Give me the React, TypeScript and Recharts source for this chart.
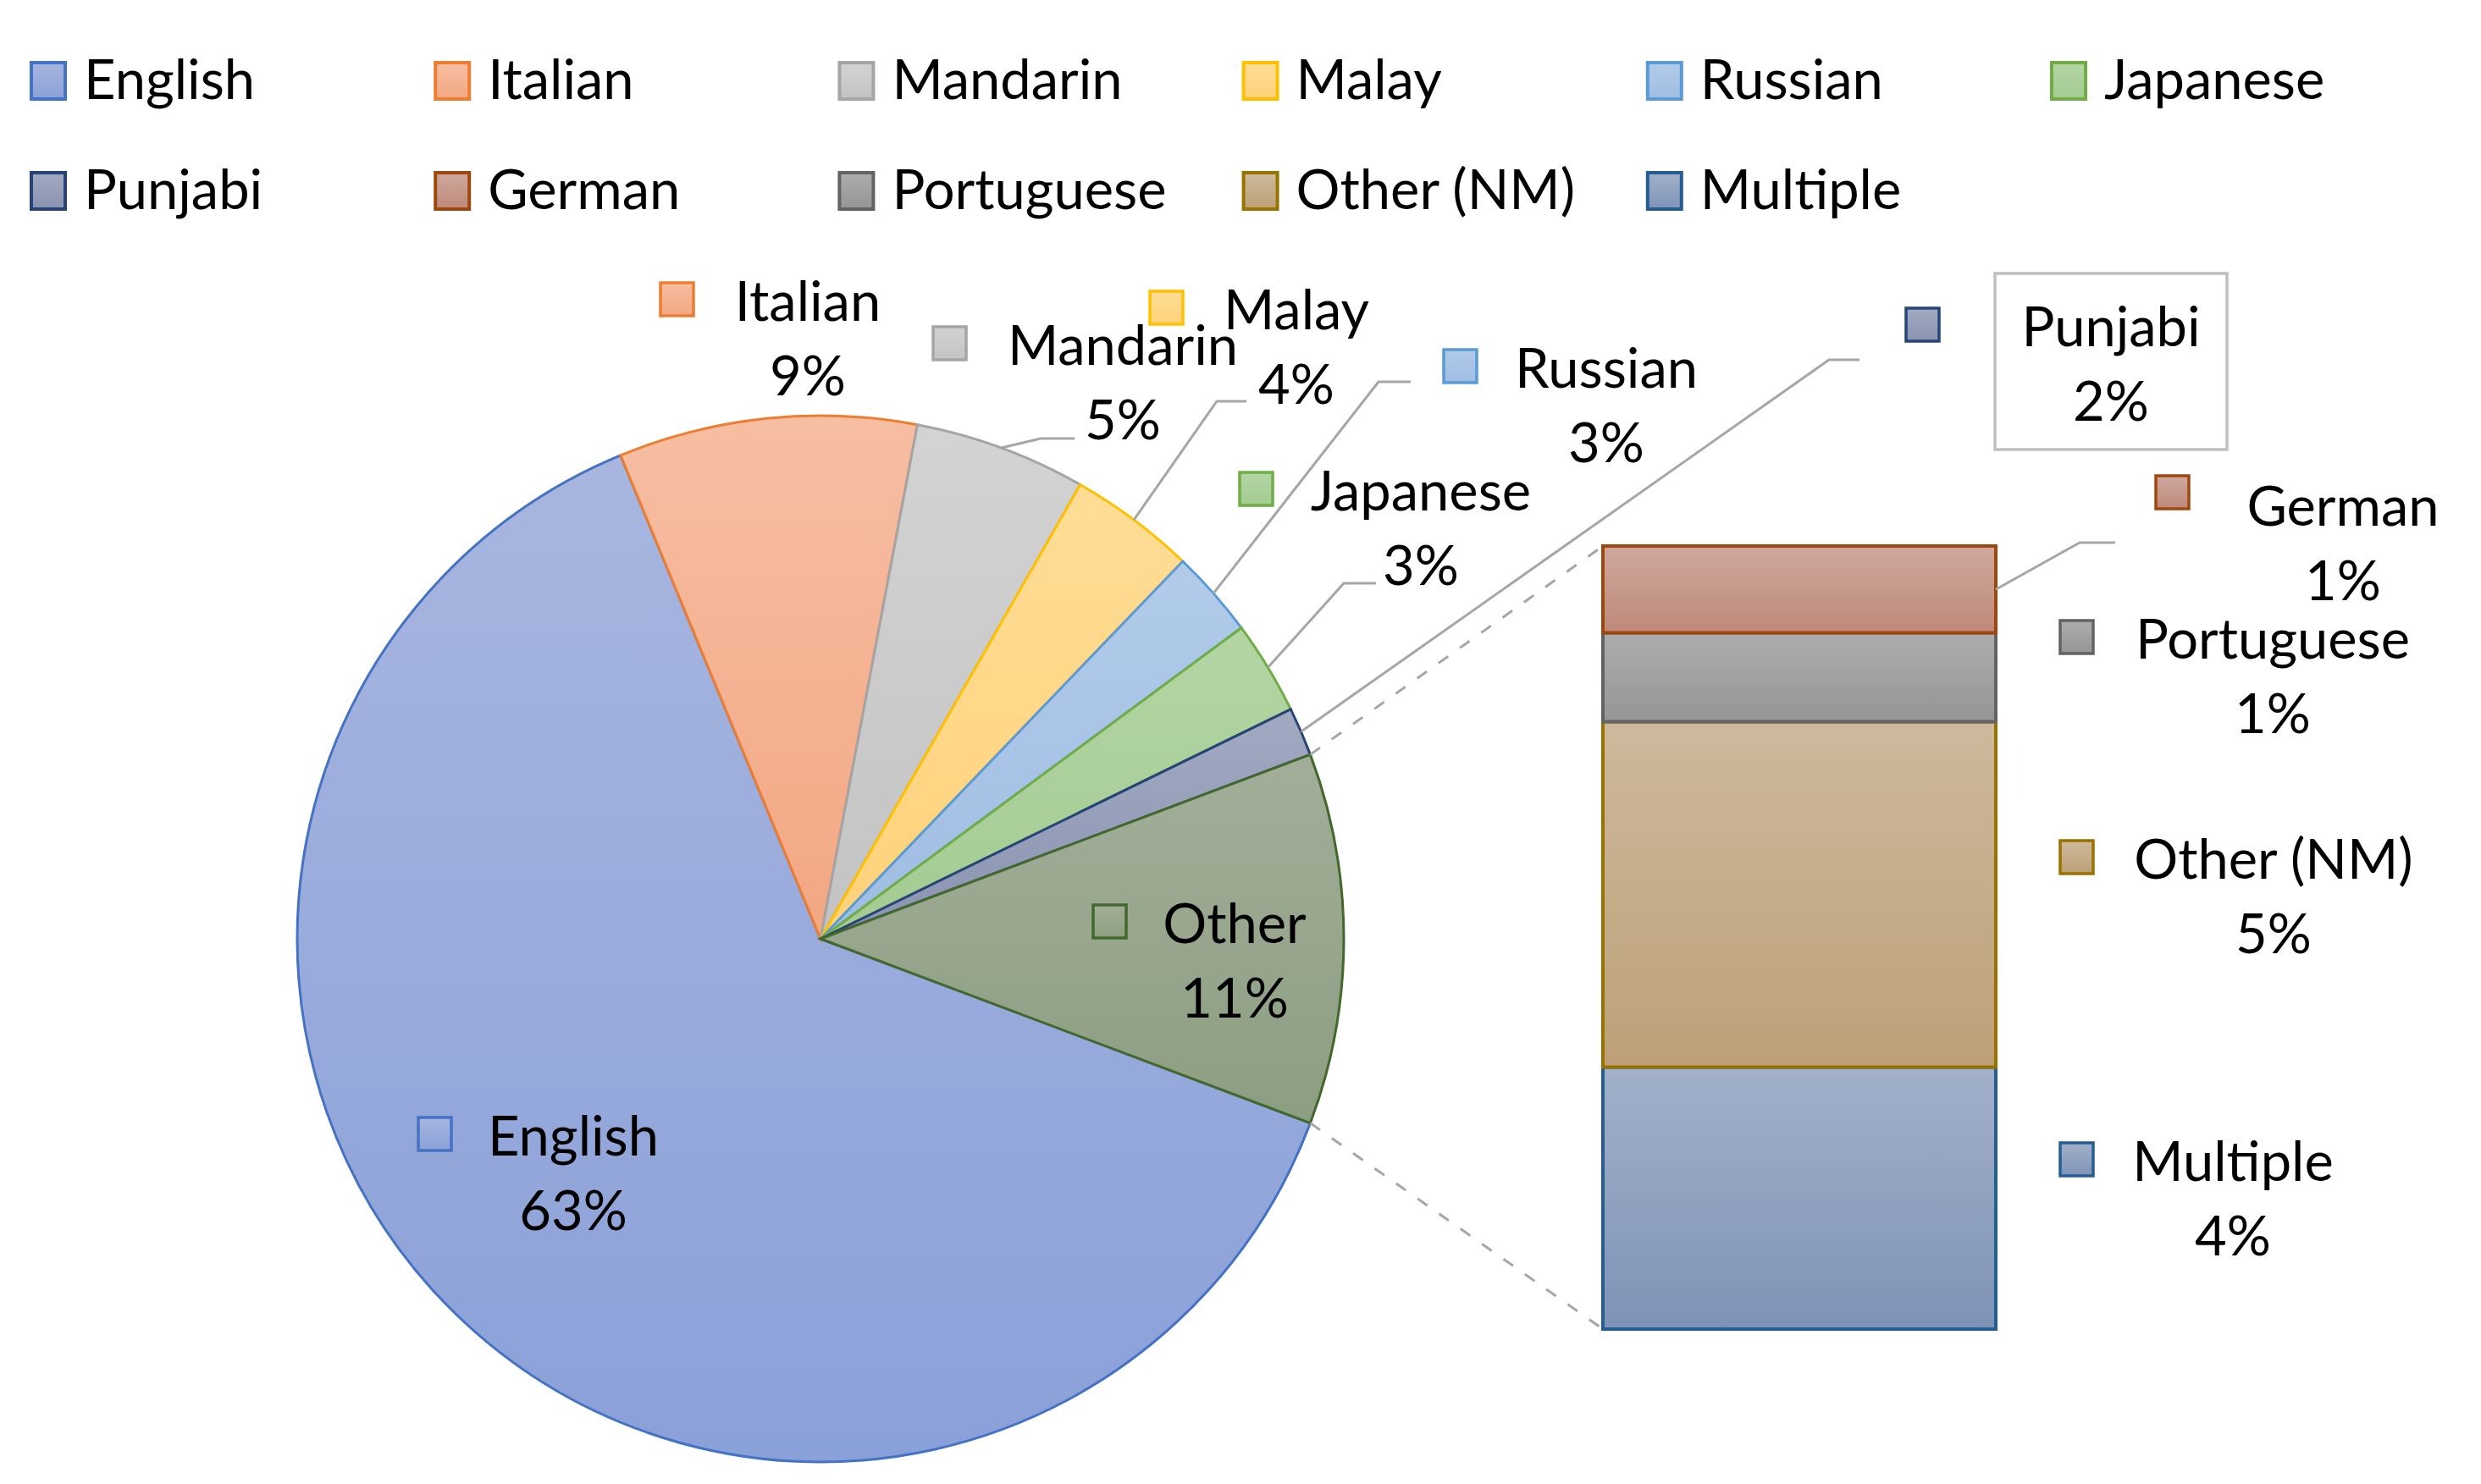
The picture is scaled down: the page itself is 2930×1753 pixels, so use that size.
import React from 'react';
import { PieChart, Pie, Cell, BarChart, Bar, XAxis, YAxis } from 'recharts';

// =============================================================================
// Data
// =============================================================================

const pieNames = ['English', 'Italian', 'Mandarin', 'Malay', 'Russian', 'Japanese', 'Punjabi'];
const pieValues = [63.0, 9.2, 5.3, 3.9, 2.7, 2.9, 1.5];
const otherName = 'Other';

// second plot (the bar), which together make up "Other"
const barNames = ['German', 'Portuguese', 'Other (NM)', 'Multiple'];
const barValues = [1.27, 1.3, 5.05, 3.83];

const legendNames = [...pieNames, ...barNames];

// =============================================================================
// Colours
// =============================================================================

const BORDER: Record<string, string> = {
  English: '#4472C4',
  Italian: '#ED7D31',
  Mandarin: '#A5A5A5',
  Malay: '#FFC000',
  Russian: '#5B9BD5',
  Japanese: '#70AD47',
  Punjabi: '#264478',
  Other: '#43682B',
  German: '#9E480E',
  Portuguese: '#636363',
  'Other (NM)': '#997300',
  Multiple: '#255E91',
};

const GRADIENT: Record<string, [string, string]> = {
  English: ['#A8B6DF', '#8AA0D8'],
  Italian: ['#F6BEA2', '#F3A783'],
  Mandarin: ['#D3D3D3', '#C3C3C3'],
  Malay: ['#FFDD96', '#FFD27A'],
  Russian: ['#B2CBE9', '#9FBDE3'],
  Japanese: ['#B3D5A4', '#A4CB92'],
  Punjabi: ['#A2AAC2', '#8A93B0'],
  Other: ['#A2AE99', '#8C9E81'],
  German: ['#D0A89E', '#BE897A'],
  Portuguese: ['#ADADAD', '#959595'],
  'Other (NM)': ['#CDB99D', '#BDA077'],
  Multiple: ['#A2B0C9', '#7F93B7'],
};

const LEADER = '#A6A6A6';
const FONT = 'Lato, "Liberation Sans", sans-serif';
const FONT_SIZE = 65;
const LINE_GAP = 88;

// =============================================================================
// Layout
// =============================================================================

const W = 2930;
const H = 1753;
const PIE_CX = 969;
const PIE_CY = 1109;
const PIE_R = 618;
const BAR_BOX = { left: 1893, right: 2357, top: 645, bottom: 1570 };

// mx: marker left, tx: name centre, by: first-line baseline
type LabelLayout = {
  mx: number;
  tx: number;
  by: number;
  my?: number;
  leader?: [number, number, number];
  box?: [number, number, number, number];
};

const PIE_LABELS: Record<string, LabelLayout> = {
  English: { mx: 492, tx: 677, by: 1365 },
  Italian: { mx: 778, tx: 954, by: 379 },
  Mandarin: { mx: 1100, tx: 1326, by: 431, leader: [1229, 518, 1269] },
  Malay: { mx: 1356, tx: 1531, by: 389, leader: [1437, 474, 1472] },
  Russian: { mx: 1703, tx: 1897, by: 458, leader: [1628, 451, 1666] },
  Japanese: { mx: 1462, tx: 1678, by: 603, leader: [1587, 689, 1625] },
  Punjabi: { mx: 2249, tx: 2493, by: 409, leader: [2160, 425, 2196], box: [2356, 323, 274, 208] },
  Other: { mx: 1289, tx: 1458, by: 1114 },
};

const BAR_LABELS: Record<string, LabelLayout> = {
  German: { mx: 2544, my: 560, tx: 2767, by: 621, leader: [2456, 641, 2498] },
  Portuguese: { mx: 2431, tx: 2684, by: 778 },
  'Other (NM)': { mx: 2431, tx: 2685, by: 1038 },
  Multiple: { mx: 2431, tx: 2637, by: 1395 },
};

// =============================================================================
// Derived
// =============================================================================

const otherValue = barValues.reduce((a, b) => a + b, 0);
const total = pieValues.reduce((a, b) => a + b, 0) + otherValue;
const pct = (v: number) => `${Math.round((v / total) * 100)}%`;

const pieData = [
  ...pieNames.map((name, i) => ({ name, value: pieValues[i] })),
  { name: otherName, value: otherValue },
];

const barRow: Record<string, number | string> = { name: otherName };
barNames.forEach((n, i) => {
  barRow[`s${i}`] = barValues[i];
});

// "Other" is centred on the 3 o'clock axis, slices run clockwise
const otherHalf = (otherValue / total) * 180;
const START_ANGLE = -otherHalf;
const END_ANGLE = START_ANGLE - 360;

const gid = (name: string) => `grad-${name.replace(/[^A-Za-z]/g, '')}`;

const polar = (angle: number, r = PIE_R) => {
  const rad = (-angle * Math.PI) / 180;
  return [PIE_CX + r * Math.cos(rad), PIE_CY + r * Math.sin(rad)];
};

// =============================================================================
// Label pieces
// =============================================================================

function LabelBlock({ name, value, lay }: { name: string; value: number; lay: LabelLayout }) {
  const markerTop = lay.my ?? lay.by - 47;
  return (
    <g>
      {lay.box && (
        <rect
          x={lay.box[0]}
          y={lay.box[1]}
          width={lay.box[2]}
          height={lay.box[3]}
          fill="#ffffff"
          stroke="#BFBFBF"
          strokeWidth={3.5}
        />
      )}
      <rect
        x={lay.mx + 2}
        y={markerTop + 2}
        width={39}
        height={39}
        fill={`url(#${gid(name)})`}
        stroke={BORDER[name]}
        strokeWidth={3.5}
      />
      <text x={lay.tx} y={lay.by} textAnchor="middle" fontFamily={FONT} fontSize={FONT_SIZE} fill="#000">
        {name}
      </text>
      <text x={lay.tx} y={lay.by + LINE_GAP} textAnchor="middle" fontFamily={FONT} fontSize={FONT_SIZE} fill="#000">
        {pct(value)}
      </text>
    </g>
  );
}

function renderPieLabel(props: any) {
  const { index, cx, cy, midAngle, outerRadius } = props;
  const entry = pieData[index];
  const lay = PIE_LABELS[entry.name];
  if (!lay) return null;
  const rad = (-midAngle * Math.PI) / 180;
  const sx = cx + outerRadius * Math.cos(rad);
  const sy = cy + outerRadius * Math.sin(rad);
  return (
    <g key={`pl-${index}`}>
      {lay.leader && (
        <polyline
          points={`${sx},${sy} ${lay.leader[0]},${lay.leader[1]} ${lay.leader[2]},${lay.leader[1]}`}
          fill="none"
          stroke={LEADER}
          strokeWidth={3}
        />
      )}
      <LabelBlock name={entry.name} value={entry.value} lay={lay} />
    </g>
  );
}

function makeBarLabel(i: number) {
  return (props: any) => {
    const { x, y, width, height } = props;
    const name = barNames[i];
    const lay = BAR_LABELS[name];
    const isTop = i === 0;
    const isBottom = i === barNames.length - 1;
    const [tx, ty] = polar(otherHalf);
    const [bx, by] = polar(-otherHalf);
    return (
      <g key={`bl-${i}`}>
        {isTop && (
          <line x1={tx} y1={ty} x2={x} y2={y} stroke={LEADER} strokeWidth={3} strokeDasharray="14 17" />
        )}
        {isBottom && (
          <line x1={bx} y1={by} x2={x} y2={y + height} stroke={LEADER} strokeWidth={3} strokeDasharray="14 17" />
        )}
        {lay.leader && (
          <polyline
            points={`${x + width},${y + height / 2} ${lay.leader[0]},${lay.leader[1]} ${lay.leader[2]},${lay.leader[1]}`}
            fill="none"
            stroke={LEADER}
            strokeWidth={3}
          />
        )}
        <LabelBlock name={name} value={barValues[i]} lay={lay} />
      </g>
    );
  };
}

// =============================================================================
// Legend
// =============================================================================

function LegendAndDefs() {
  return (
    <svg width={W} height={280} style={{ position: 'absolute', left: 0, top: 0 }}>
      <defs>
        {Object.keys(GRADIENT).map((name) => (
          <linearGradient key={name} id={gid(name)} x1="0" y1="0" x2="0" y2="1">
            <stop offset="0%" stopColor={GRADIENT[name][0]} />
            <stop offset="100%" stopColor={GRADIENT[name][1]} />
          </linearGradient>
        ))}
      </defs>
      {legendNames.map((name, i) => {
        const col = i % 6;
        const row = Math.floor(i / 6);
        const mx = 35 + col * 477.2;
        const base = 117 + row * 130;
        return (
          <g key={name}>
            <rect
              x={mx + 2}
              y={base - 45 + 2}
              width={40}
              height={43}
              fill={`url(#${gid(name)})`}
              stroke={BORDER[name]}
              strokeWidth={4}
            />
            <text x={mx + 64} y={base} fontFamily={FONT} fontSize={FONT_SIZE} fill="#000">
              {name}
            </text>
          </g>
        );
      })}
    </svg>
  );
}

// =============================================================================
// App
// =============================================================================

export default function App() {
  return (
    <div style={{ position: 'absolute', left: 0, top: 0, width: W, height: H, background: '#ffffff' }}>
      <div style={{ position: 'absolute', left: 0, top: 0 }}>
        <PieChart width={W} height={H} margin={{ top: 0, right: 0, bottom: 0, left: 0 }}>
          <Pie
            data={pieData}
            dataKey="value"
            nameKey="name"
            cx={PIE_CX}
            cy={PIE_CY}
            outerRadius={PIE_R}
            startAngle={START_ANGLE}
            endAngle={END_ANGLE}
            paddingAngle={0}
            label={renderPieLabel}
            labelLine={false}
            isAnimationActive={false}
          >
            {pieData.map((d) => (
              <Cell key={d.name} fill={`url(#${gid(d.name)})`} stroke={BORDER[d.name]} strokeWidth={3} />
            ))}
          </Pie>
        </PieChart>
      </div>
      <div style={{ position: 'absolute', left: 0, top: 0 }}>
        <BarChart
          width={W}
          height={H}
          data={[barRow]}
          margin={{
            top: BAR_BOX.top,
            left: BAR_BOX.left,
            right: W - BAR_BOX.right,
            bottom: H - BAR_BOX.bottom,
          }}
          barCategoryGap={0}
          barGap={0}
        >
          <XAxis dataKey="name" hide />
          <YAxis hide type="number" scale="linear" domain={[0, 'dataMax']} />
          {barNames
            .map((n, i) => (
              <Bar
                key={n}
                dataKey={`s${i}`}
                stackId="a"
                fill={`url(#${gid(n)})`}
                stroke={BORDER[n]}
                strokeWidth={4}
                label={makeBarLabel(i)}
                isAnimationActive={false}
              />
            ))
            .reverse()}
        </BarChart>
      </div>
      <LegendAndDefs />
    </div>
  );
}
